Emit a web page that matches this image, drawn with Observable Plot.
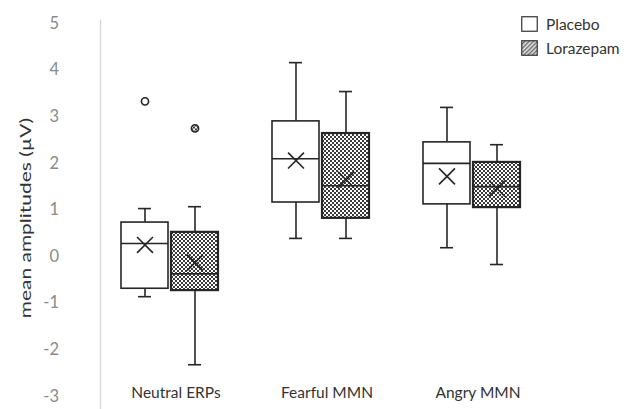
<!DOCTYPE html>
<html>
<head>
<meta charset="utf-8">
<script src="https://cdn.jsdelivr.net/npm/d3@7"></script>
<script src="https://cdn.jsdelivr.net/npm/@observablehq/plot@0.6"></script>
<style>
  body { margin: 0; background: #fff; font-family: Lato, "Open Sans", sans-serif; }
  #wrap { position: relative; width: 631px; height: 409px; }
  #legend { position: absolute; left: 521px; top: 12px; font-size: 15.5px; color: #333; }
  #legend .row { display: flex; align-items: center; height: 24px; }
  #legend svg { margin-right: 8px; }
  #ylabel { position: absolute; left: 25px; top: 218px; transform: translate(-50%, -50%) rotate(-90deg) scaleX(1.35);
            white-space: nowrap; font-size: 15.5px; color: #333; }
</style>
</head>
<body>
<svg width="0" height="0" style="position:absolute">
  <defs>
    <pattern id="checker" width="4" height="4" patternUnits="userSpaceOnUse">
      <rect width="4" height="4" fill="#ffffff"/>
      <rect x="2" y="0" width="2" height="2" fill="#3a3a3a"/>
      <rect x="0" y="2" width="2" height="2" fill="#3a3a3a"/>
    </pattern>
    <pattern id="hatch" width="3" height="3" patternUnits="userSpaceOnUse" patternTransform="rotate(45)">
      <rect width="3" height="3" fill="#e6e6e6"/>
      <rect width="1.4" height="3" fill="#6a6a6a"/>
    </pattern>
  </defs>
</svg>
<div id="wrap">
  <div id="chart"></div>
  <div id="ylabel"></div>
  <div id="legend"></div>
</div>
<script>
const categories = ["Neutral ERPs", "Fearful MMN", "Angry MMN"];
const treatments = ["Placebo", "Lorazepam"];
const yTicks = [-3, -2, -1, 0, 1, 2, 3, 4, 5];
const yLabel = "mean amplitudes (µV)";

const placeboMin    = [-0.86, 0.39, 0.19];
const placeboQ1     = [-0.69, 1.16, 1.12];
const placeboMedian = [0.28, 2.10, 2.00];
const placeboQ3     = [0.73, 2.90, 2.45];
const placeboMax    = [1.03, 4.16, 3.20];
const placeboMean   = [0.25, 2.06, 1.72];

const lorazepamMin    = [-2.32, 0.39, -0.17];
const lorazepamQ1     = [-0.73, 0.82, 1.05];
const lorazepamMedian = [-0.37, 1.52, 1.50];
const lorazepamQ3     = [0.52, 2.64, 2.02];
const lorazepamMax    = [1.07, 3.54, 2.40];
const lorazepamMean   = [-0.13, 1.65, 1.46];

const outlierCategory  = ["Neutral ERPs", "Neutral ERPs"];
const outlierTreatment = ["Placebo", "Lorazepam"];
const outlierValue     = [3.33, 2.75];

const series = {
  Placebo: {min: placeboMin, q1: placeboQ1, median: placeboMedian, q3: placeboQ3, max: placeboMax, mean: placeboMean},
  Lorazepam: {min: lorazepamMin, q1: lorazepamQ1, median: lorazepamMedian, q3: lorazepamQ3, max: lorazepamMax, mean: lorazepamMean}
};
const boxes = categories.flatMap((c, i) => treatments.map(t => ({
  category: c, treatment: t,
  min: series[t].min[i], q1: series[t].q1[i], median: series[t].median[i],
  q3: series[t].q3[i], max: series[t].max[i], mean: series[t].mean[i]
})));
const outliers = outlierValue.map((v, i) => ({category: outlierCategory[i], treatment: outlierTreatment[i], value: v}));

const fillFor = {Placebo: "white", Lorazepam: "url(#checker)"};
const ink = "#262626";

const marks = [
  Plot.frame({anchor: "left", facet: "super", stroke: "#d9d9d9", strokeWidth: 1.5}),
  Plot.text(yTicks, {fx: () => categories[0], y: d => d, text: d => String(d), frameAnchor: "left", textAnchor: "end", dx: -41.5, fontSize: 16.5, fill: "#8a8a8a"}),
  Plot.text(categories, {fx: d => d, text: d => d, frameAnchor: "bottom", lineAnchor: "middle", dy: -16, fontSize: 15.5, fill: "#333"}),
  Plot.ruleX(boxes, {fx: "category", x: "treatment", y1: "q3", y2: "max", stroke: ink, strokeWidth: 1.6}),
  Plot.ruleX(boxes, {fx: "category", x: "treatment", y1: "q1", y2: "min", stroke: ink, strokeWidth: 1.6}),
  Plot.tickY(boxes, {fx: "category", x: "treatment", y: "max", insetLeft: 17, insetRight: 17, stroke: ink, strokeWidth: 1.6}),
  Plot.tickY(boxes, {fx: "category", x: "treatment", y: "min", insetLeft: 17, insetRight: 17, stroke: ink, strokeWidth: 1.6})
];
for (const t of treatments) {
  const rows = boxes.filter(d => d.treatment === t);
  marks.push(Plot.barY(rows, {fx: "category", x: "treatment", y1: "q1", y2: "q3", fill: fillFor[t], stroke: ink, strokeWidth: t === "Lorazepam" ? 2.2 : 1.6}));
  marks.push(Plot.dot(outliers.filter(d => d.treatment === t), {fx: "category", x: "treatment", y: "value", r: 3.6, fill: fillFor[t], stroke: ink, strokeWidth: 1.6}));
}
marks.push(
  Plot.tickY(boxes, {fx: "category", x: "treatment", y: "median", stroke: ink, strokeWidth: 1.6}),
  Plot.dot(boxes, {fx: "category", x: "treatment", y: "mean", symbol: "times", r: 7.3, stroke: ink, strokeWidth: 1.6})
);

const chart = Plot.plot({
  width: 631,
  height: 409,
  marginLeft: 75,
  marginRight: 54,
  marginTop: 20,
  marginBottom: 0,
  style: {fontFamily: "Lato, 'Open Sans', sans-serif", background: "white"},
  fx: {domain: categories, paddingInner: 0, paddingOuter: 0.162, axis: null, label: null},
  x: {domain: treatments, paddingInner: 0.07, paddingOuter: 0.53, align: 0.39, axis: null},
  y: {domain: [-3.28, 5.064], axis: null},
  marks
});
document.getElementById("chart").appendChild(chart);
document.getElementById("ylabel").textContent = yLabel;

const legend = document.getElementById("legend");
for (const t of treatments) {
  const row = document.createElement("div");
  row.className = "row";
  const sw = t === "Placebo"
    ? '<svg width="17" height="16"><rect x="0.75" y="0.75" width="15.5" height="14.5" fill="white" stroke="#333" stroke-width="1.2"/></svg>'
    : '<svg width="17" height="16"><rect x="0.75" y="0.75" width="15.5" height="14.5" fill="url(#hatch)" stroke="#333" stroke-width="1.2"/></svg>';
  row.innerHTML = sw;
  const span = document.createElement("span");
  span.textContent = t;
  row.appendChild(span);
  legend.appendChild(row);
}
</script>
</body>
</html>
